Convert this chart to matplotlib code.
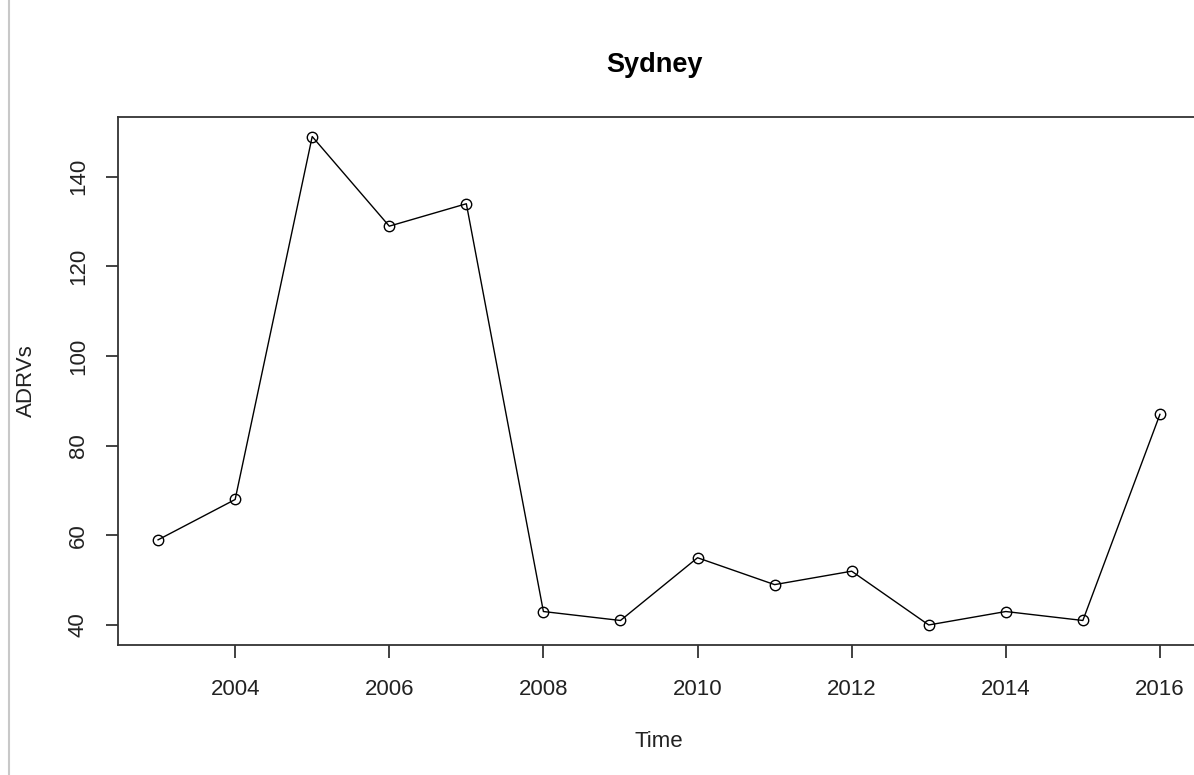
import matplotlib
matplotlib.use("Agg")
import matplotlib.pyplot as plt
from matplotlib.lines import Line2D

years = [2003, 2004, 2005, 2006, 2007, 2008, 2009, 2010, 2011, 2012, 2013, 2014, 2015, 2016]
adrvs = [59, 68, 149, 129, 134, 43, 41, 55, 49, 52, 40, 43, 41, 87]
xticks = [2004, 2006, 2008, 2010, 2012, 2014, 2016]
yticks = [40, 60, 80, 100, 120, 140]

plt.rcParams['font.family'] = ['Liberation Sans', 'DejaVu Sans']

W, H = 1194, 775
fig = plt.figure(figsize=(W / 100, H / 100), dpi=100)
# the right edge of the plot box is cut off in the reference
ax = fig.add_axes([118 / W, (H - 644.5) / H, (1200 - 118) / W, (644.5 - 117) / H])

ax.plot(years, adrvs, color="black", lw=1.0, marker="o", ms=7.5,
        mfc="none", mec="black", mew=1.0)

# R style 4% padding
xr = years[-1] - years[0]
ax.set_xlim(years[0] - 0.04 * xr, years[-1] + 0.04 * xr)
yr = max(adrvs) - min(adrvs)
ax.set_ylim(min(adrvs) - 0.04 * yr, max(adrvs) + 0.04 * yr)

ax.set_xticks(xticks)
ax.set_yticks(yticks)
ax.set_yticklabels([str(v) for v in yticks], rotation=90, va="center")
ax.tick_params(direction="out", length=9, width=1.3, color="#333333",
               labelsize=16, pad=12, labelcolor="#222222")
ax.tick_params(axis="x", pad=16)
for s in ax.spines.values():
    s.set_linewidth(1.3)
    s.set_color("#333333")

ax.set_xlabel("Time", fontsize=16, labelpad=22, color="#222222")
ax.set_ylabel("ADRVs", fontsize=16, labelpad=22, color="#222222")
fig.text(655 / W, 1 - 65 / H, "Sydney", fontsize=19.5,
         fontweight="bold", ha="center", va="center")

# thin gray border line at the left of the screenshot
fig.add_artist(Line2D([8.5 / W, 8.5 / W], [0, 1], color="#c8c8c8", lw=1.5,
                      transform=fig.transFigure))

fig.savefig("out.png", dpi=100)
